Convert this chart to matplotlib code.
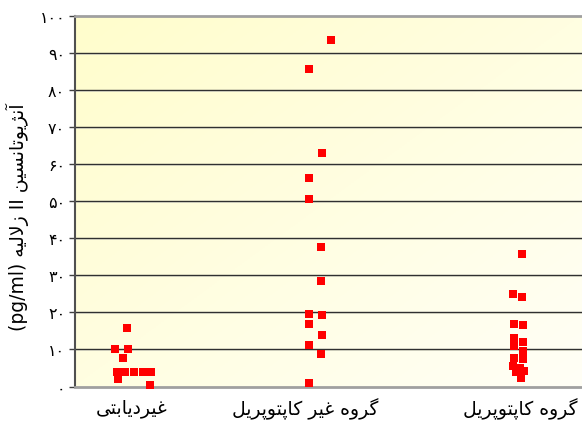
import numpy as np
import matplotlib.pyplot as plt
from matplotlib.ticker import FuncFormatter, MultipleLocator
from matplotlib.colors import LinearSegmentedColormap

plt.rcParams['font.family'] = ['DejaVu Sans']

# گروه‌ها و برچسب‌ها
categories = ["غیردیابتی", "گروه غیر کاپتوپریل", "گروه کاپتوپریل"]
cat_pos = [0.995, 1.895, 3.01]
y_title = "آنژیوتانسین II زلالیه (pg/ml)"

# داده‌ها (x = جایگاه گروه با کمی پراکندگی)
x_nondiab = [0.967, 0.906, 0.975, 0.949, 0.915, 0.958, 1.007, 1.053, 1.092, 0.924, 1.088]
y_nondiab = [15.9, 10.0, 10.0, 7.8, 4.0, 4.0, 4.0, 4.0, 4.0, 1.9, 0.5]

x_noncap = [2.027, 1.916, 1.980, 1.916, 1.916, 1.977, 1.977, 1.914, 1.914, 1.980, 1.980, 1.914, 1.977, 1.914]
y_noncap = [93.5, 85.7, 62.9, 56.2, 50.5, 37.6, 28.5, 19.5, 17.0, 19.2, 13.9, 11.1, 8.9, 1.0]

x_cap = [3.019, 2.975, 3.022, 2.979, 3.026, 2.979, 3.026, 2.979, 3.026, 2.979, 3.026, 2.974, 3.010, 3.031, 2.990, 3.016]
y_cap = [35.7, 25.1, 24.2, 16.8, 16.5, 13.0, 11.9, 11.0, 9.5, 7.8, 7.3, 5.4, 5.1, 4.3, 3.8, 2.4]

# شکل‌های حروف: (تنها، پایانی، آغازی، میانی)
FORMS = {
    '\u0627': ('\uFE8D', '\uFE8E', None, None),
    '\u0622': ('\uFE81', '\uFE82', None, None),
    '\u062F': ('\uFEA9', '\uFEAA', None, None),
    '\u0631': ('\uFEAD', '\uFEAE', None, None),
    '\u0632': ('\uFEAF', '\uFEB0', None, None),
    '\u0698': ('\uFB8A', '\uFB8B', None, None),
    '\u0648': ('\uFEED', '\uFEEE', None, None),
    '\u0628': ('\uFE8F', '\uFE90', '\uFE91', '\uFE92'),
    '\u067E': ('\uFB56', '\uFB57', '\uFB58', '\uFB59'),
    '\u062A': ('\uFE95', '\uFE96', '\uFE97', '\uFE98'),
    '\u0633': ('\uFEB1', '\uFEB2', '\uFEB3', '\uFEB4'),
    '\u063A': ('\uFECD', '\uFECE', '\uFECF', '\uFED0'),
    '\u06A9': ('\uFB8E', '\uFB8F', '\uFB90', '\uFB91'),
    '\u06AF': ('\uFB92', '\uFB93', '\uFB94', '\uFB95'),
    '\u0644': ('\uFEDD', '\uFEDE', '\uFEDF', '\uFEE0'),
    '\u0646': ('\uFEE5', '\uFEE6', '\uFEE7', '\uFEE8'),
    '\u0647': ('\uFEE9', '\uFEEA', '\uFEEB', '\uFEEC'),
    '\u06CC': ('\uFBFC', '\uFBFD', '\uFBFE', '\uFBFF'),
}


def joins_next(c):
    return c in FORMS and FORMS[c][2] is not None


def shape(word):
    out = []
    i = 0
    while i < len(word):
        c = word[i]
        linked_prev = i > 0 and joins_next(word[i - 1])
        if c == '\u0644' and i + 1 < len(word) and word[i + 1] == '\u0627':
            out.append('\uFEFC' if linked_prev else '\uFEFB')
            i += 2
            continue
        if c not in FORMS:
            out.append(c)
            i += 1
            continue
        linked_next = joins_next(c) and i + 1 < len(word) and word[i + 1] in FORMS
        iso, fin, ini, med = FORMS[c]
        if linked_prev and linked_next:
            out.append(med)
        elif linked_prev:
            out.append(fin)
        elif linked_next:
            out.append(ini)
        else:
            out.append(iso)
        i += 1
    return ''.join(out)


def rtl(text):
    out = []
    for w in reversed(text.split(' ')):
        if any('\u0600' <= ch <= '\u06FF' for ch in w):
            out.append(shape(w)[::-1])
        else:
            out.append(w)
    return ' '.join(out)


def fa_digits(v, pos):
    return str(int(round(v))).translate(str.maketrans('0123456789', '۰۱۲۳۴۵۶۷۸۹'))


fig = plt.figure(figsize=(5.82, 4.27), dpi=100)
ax = fig.add_axes([75 / 582, 1 - 387.5 / 427, 1 - 75 / 582, 370.5 / 427])

# پس‌زمینه‌ی گرادیانی (زرد در بالا-چپ، روشن‌تر در پایین-راست)
gx, gy = np.meshgrid(np.linspace(0, 1, 200), np.linspace(0, 1, 200))
grad = (gx + gy) / 2
cmap = LinearSegmentedColormap.from_list('bg', ['#FFFDCC', '#FFFFF6'])
ax.imshow(grad, cmap=cmap, extent=[0, 1, 0, 1], transform=ax.transAxes,
          aspect='auto', zorder=0, origin='upper')

for xs, ys in [(x_nondiab, y_nondiab), (x_noncap, y_noncap), (x_cap, y_cap)]:
    ax.scatter(xs, ys, marker='s', s=34, c='#FF0000', linewidths=0, zorder=4, clip_on=False)

ax.set_xlim(0.699, 3.332)
ax.set_ylim(0, 100)
ax.yaxis.set_major_locator(MultipleLocator(10))
ax.yaxis.set_major_formatter(FuncFormatter(fa_digits))
for v in range(10, 100, 10):
    ax.axhline(v, color='#303030', lw=1.0, zorder=1)
    ax.axhline(v - 0.28, color='#c8c8b8', lw=0.6, zorder=1)

ax.set_xticks(cat_pos)
ax.set_xticklabels([rtl(c) for c in categories], fontsize=13.5)
ax.tick_params(axis='x', length=0, pad=8)
ax.tick_params(axis='y', length=4, width=1, color='#404040', labelsize=11.5, pad=3)

ax.spines['right'].set_visible(False)
ax.spines['top'].set_color('#a0a0a0')
ax.spines['top'].set_linewidth(2)
ax.spines['bottom'].set_color('#a0a0a0')
ax.spines['bottom'].set_linewidth(2)
ax.spines['left'].set_color('#505050')
ax.spines['left'].set_linewidth(1.5)

ax.set_ylabel(rtl(y_title), fontsize=13.5)
ax.yaxis.set_label_coords(-0.09, 0.46)

fig.savefig('out.png', dpi=100)
